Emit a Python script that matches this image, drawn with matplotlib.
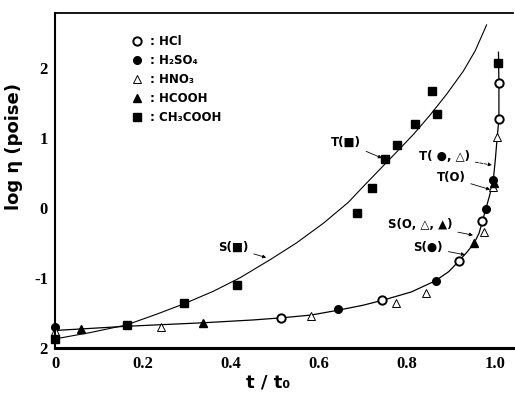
import matplotlib
matplotlib.use("Agg")
import matplotlib.pyplot as plt

# values (x = t/t0, y = log eta)
hcl_x = [0.514, 0.744, 0.918, 0.971, 1.009, 1.009]
hcl_y = [-1.57, -1.32, -0.76, -0.19, 1.27, 1.78]

h2so4_x = [0.0, 0.644, 0.865, 0.979, 0.995]
h2so4_y = [-1.70, -1.45, -1.04, -0.02, 0.40]

hno3_x = [0.0, 0.242, 0.582, 0.776, 0.843, 0.976, 0.995, 1.004]
hno3_y = [-1.76, -1.70, -1.54, -1.36, -1.22, -0.34, 0.30, 1.01]

hcooh_x = [0.058, 0.337, 0.953, 0.997]
hcooh_y = [-1.73, -1.64, -0.50, 0.36]

ch3cooh_x = [0.0, 0.163, 0.293, 0.414, 0.686, 0.72, 0.75, 0.777, 0.818, 0.858, 0.869, 1.008]
ch3cooh_y = [-1.87, -1.67, -1.36, -1.10, -0.07, 0.28, 0.70, 0.90, 1.19, 1.67, 1.34, 2.07]

# hand-drawn guide curves
upper_x = [0.0, 0.08, 0.163, 0.23, 0.293, 0.36, 0.42, 0.489, 0.549, 0.61, 0.667,
           0.697, 0.74, 0.777, 0.815, 0.852, 0.89, 0.928, 0.955, 0.981]
upper_y = [-1.87, -1.78, -1.67, -1.52, -1.37, -1.19, -1.00, -0.74, -0.50, -0.22, 0.08,
           0.28, 0.56, 0.80, 1.05, 1.32, 1.62, 1.95, 2.24, 2.61]

lower_x = [0.0, 0.163, 0.337, 0.45, 0.514, 0.582, 0.644, 0.70, 0.744, 0.81, 0.865,
           0.895, 0.918, 0.938, 0.953, 0.964, 0.971, 0.979, 0.988, 0.996, 1.001,
           1.005, 1.009, 1.009, 1.008]
lower_y = [-1.75, -1.69, -1.64, -1.60, -1.57, -1.53, -1.46, -1.39, -1.32, -1.20, -1.04,
           -0.91, -0.76, -0.62, -0.50, -0.36, -0.20, -0.02, 0.18, 0.38, 0.70,
           1.00, 1.27, 1.78, 2.22]

ytick_vals = [-2, -1, 0, 1, 2]
ytick_text = ["2", "-1", "0", "1", "2"]
xtick_vals = [0, 0.2, 0.4, 0.6, 0.8, 1.0]
xtick_text = ["0", "0.2", "0.4", "0.6", "0.8", "1.0"]

labels = [": HCl", ": H\u2082SO\u2084", ": HNO\u2083", ": HCOOH", ": CH\u2083COOH"]

fig = plt.figure(figsize=(5.15, 4.0), dpi=100)
ax = fig.add_axes([55 / 515, 52 / 400, 458 / 515, 335 / 400])

ax.plot(upper_x, upper_y, color="black", lw=0.8, clip_on=False)
ax.plot(lower_x, lower_y, color="black", lw=0.9, clip_on=False)

h1, = ax.plot(hcl_x, hcl_y, "o", ms=6, mfc="white", mec="black", mew=1.4, clip_on=False)
h2, = ax.plot(h2so4_x, h2so4_y, "o", ms=5.5, color="black", clip_on=False)
h3, = ax.plot(hno3_x, hno3_y, "^", ms=5.5, mfc="white", mec="black", mew=0.7, clip_on=False)
h4, = ax.plot(hcooh_x, hcooh_y, "^", ms=6, color="black", clip_on=False)
h5, = ax.plot(ch3cooh_x, ch3cooh_y, "s", ms=5.8, color="black", clip_on=False)

leg = ax.legend([h1, h2, h3, h4, h5], labels, loc="upper left",
                bbox_to_anchor=(0.142, 0.965), frameon=False, handlelength=1.0,
                handletextpad=0.6, labelspacing=0.5,
                prop={"family": "DejaVu Sans", "weight": "bold", "size": 8.5})

ann = dict(fontsize=8.5, fontweight="bold", ha="center", va="center")
arr = dict(arrowstyle="-|>", lw=0.6, color="black", mutation_scale=5, shrinkA=2, shrinkB=0)
ax.annotate("S(\u25a0)", xy=(0.48, -0.71), xytext=(0.405, -0.57), arrowprops=arr, **ann)
ax.annotate("T(\u25a0)", xy=(0.743, 0.71), xytext=(0.661, 0.93), arrowprops=arr, **ann)
ax.annotate("T( \u25cf, \u25b3)", xy=(0.993, 0.61), xytext=(0.885, 0.73),
            arrowprops=dict(arr, linestyle="--"), **ann)
ax.annotate("T(O)", xy=(0.989, 0.26), xytext=(0.90, 0.43), arrowprops=arr, **ann)
ax.annotate("S(O, \u25b3, \u25b2)", xy=(0.95, -0.39), xytext=(0.83, -0.24), arrowprops=arr, **ann)
ax.annotate("S(\u25cf)", xy=(0.932, -0.67), xytext=(0.848, -0.57), arrowprops=arr, **ann)

ax.set_xlim(0, 1.041)
ax.set_ylim(-2.0, 2.78)
ax.set_xticks(xtick_vals)
ax.set_xticklabels(xtick_text)
ax.set_yticks(ytick_vals)
ax.set_yticklabels(ytick_text)
ax.tick_params(length=0)
ax.tick_params(axis="x", pad=6)
ax.tick_params(axis="y", pad=5)
for lab in ax.get_xticklabels() + ax.get_yticklabels():
    lab.set_family("Liberation Serif")
    lab.set_fontweight("bold")
    lab.set_fontsize(12)

ax.spines["right"].set_visible(False)
ax.spines["left"].set_linewidth(1.5)
ax.spines["top"].set_linewidth(1.3)
ax.spines["bottom"].set_linewidth(2.2)

ax.set_xlabel("t / t\u2080", fontsize=13, fontweight="bold")
ax.xaxis.set_label_coords(0.465, -0.075)
ax.set_ylabel("log \u03b7 (poise)", fontsize=13, fontweight="bold")
ax.yaxis.set_label_coords(-0.07, 0.6)

fig.savefig("out.png", dpi=100)
